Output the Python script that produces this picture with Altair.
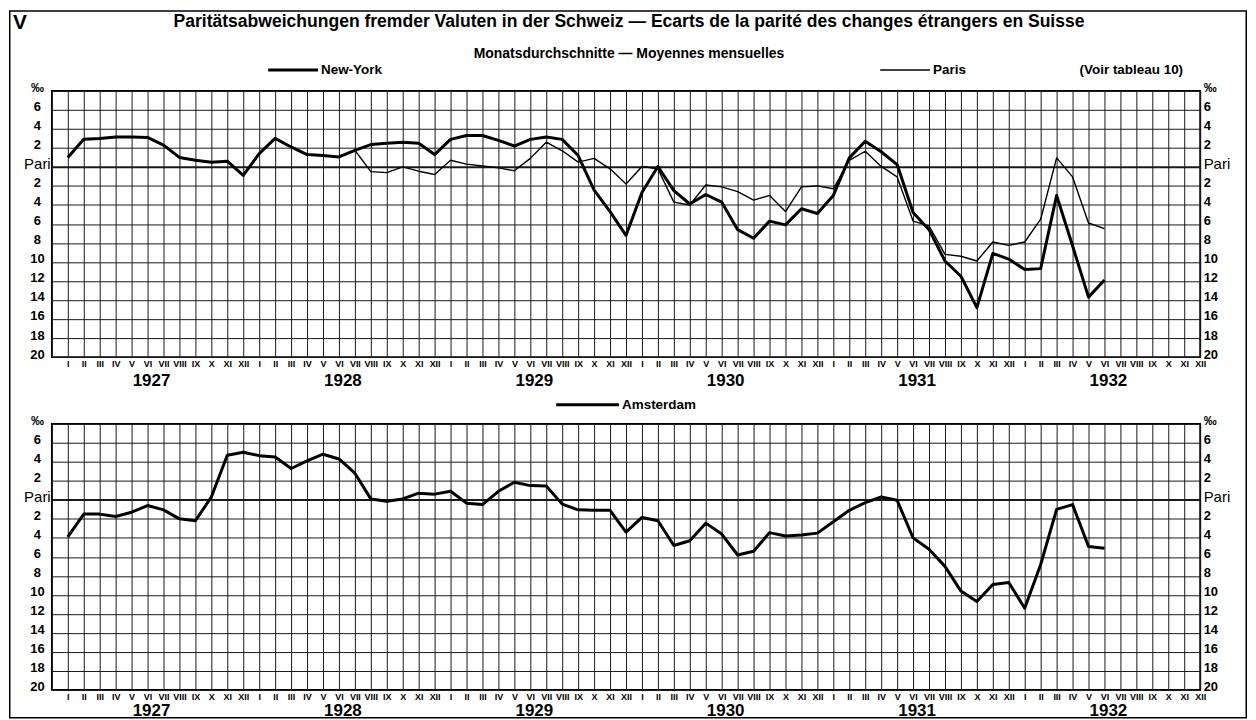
import altair as alt
import pandas as pd

FONT = "Liberation Sans"

MONTHS = ["I", "II", "III", "IV", "V", "VI", "VII", "VIII", "IX", "X", "XI", "XII"]
YEARS = ["1927", "1928", "1929", "1930", "1931", "1932"]
Y_TICKS = list(range(-20, 9, 2))

# Monthly averages, per mille deviation from parity (positive = above parity)
NEW_YORK = [
    1.0, 2.9, 3.0, 3.15, 3.15, 3.1, 2.3, 1.0, 0.7, 0.5, 0.6, -0.9,
    1.4, 3.0, 2.1, 1.3, 1.2, 1.05, 1.75, 2.35, 2.5, 2.6, 2.5, 1.3,
    2.9, 3.3, 3.3, 2.8, 2.2, 2.9, 3.15, 2.9, 1.2, -2.45, -4.7, -7.2,
    -2.7, 0.05, -2.5, -3.9, -2.9, -3.7, -6.6, -7.5, -5.7, -6.1, -4.4, -4.9,
    -3.0, 0.95, 2.7, 1.6, 0.25, -4.8, -6.6, -9.9, -11.5, -14.8, -9.1, -9.7,
    -10.8, -10.7, -3.0, -8.3, -13.7, -11.9,
]
PARIS_FIRST_MONTH = 19  # VII 1928
PARIS = [
    1.75, -0.5, -0.6, 0.0, -0.45, -0.8,
    0.7, 0.3, 0.1, -0.1, -0.4, 0.9, 2.6, 1.7, 0.5, 0.9, -0.2, -1.8,
    0.05, -0.2, -3.7, -4.0, -1.9, -2.1, -2.6, -3.5, -3.0, -4.7, -2.1, -2.0,
    -2.3, 0.7, 1.65, 0.05, -1.05, -5.7, -6.2, -9.2, -9.4, -9.9, -7.9, -8.25,
    -7.9, -5.5, 0.95, -1.05, -5.9, -6.5,
]
AMSTERDAM = [
    -3.9, -1.5, -1.5, -1.75, -1.3, -0.6, -1.05, -2.0, -2.2, 0.3, 4.7, 5.0,
    4.65, 4.5, 3.3, 4.1, 4.8, 4.3, 2.8, 0.1, -0.15, 0.1, 0.7, 0.6,
    0.9, -0.35, -0.5, 0.9, 1.85, 1.5, 1.45, -0.45, -1.05, -1.1, -1.1, -3.4,
    -1.85, -2.2, -4.8, -4.3, -2.45, -3.6, -5.8, -5.4, -3.45, -3.8, -3.7, -3.5,
    -2.3, -1.1, -0.3, 0.3, -0.05, -4.0, -5.2, -7.0, -9.6, -10.7, -8.9, -8.7,
    -11.4, -6.8, -1.0, -0.5, -4.9, -5.1,
]

PLATE = "V"
TITLE = "Paritätsabweichungen fremder Valuten in der Schweiz — Ecarts de la parité des changes étrangers en Suisse"
SUBTITLE = "Monatsdurchschnitte — Moyennes mensuelles"
NOTE = "(Voir tableau 10)"
NAMES = ["New-York", "Paris", "Amsterdam"]

W, H = 1152, 267


def series_df(values, first_month=1):
    return pd.DataFrame({"m": list(range(first_month, first_month + len(values))), "v": values})


ny_df = series_df(NEW_YORK)
pa_df = series_df(PARIS, PARIS_FIRST_MONTH)
am_df = series_df(AMSTERDAM)
year_df = pd.DataFrame({"m": [12 * k + 6.25 for k in range(len(YEARS))], "label": YEARS})
one = pd.DataFrame({"k": [0]})

xscale = alt.Scale(domain=[0, 72], nice=False, zero=False)
yscale = alt.Scale(domain=[-20, 8], nice=False, zero=False)

month_expr = "datum.value >= 1 ? " + str(MONTHS) + "[(datum.value - 1) % 12] : ''"
y_expr = "datum.value === 0 ? 'Pari' : (datum.value === 8 ? '‰' : '' + abs(datum.value))"

xaxis = alt.Axis(
    values=list(range(0, 73)), grid=True, gridColor="#1a1a1a", gridWidth=1,
    domain=False, ticks=False, labelExpr=month_expr, labelOverlap=False,
    labelFlush=False, labelPadding=3, labelFont=FONT, labelFontWeight="bold",
    labelFontSize=9, labelColor="black", title=None,
)
pari_size = {"condition": {"test": "datum.value === 0", "value": 15}, "value": 13}
pari_weight = {"condition": {"test": "datum.value === 0", "value": "normal"}, "value": "bold"}
yaxis_left = alt.Axis(
    values=Y_TICKS, grid=True, gridColor="#1a1a1a",
    gridWidth={"condition": {"test": "datum.value === 0", "value": 2}, "value": 1},
    domain=False, ticks=False, labelExpr=y_expr, labelOverlap=False, labelFlush=False,
    labelAlign="center", labelBaseline="middle", labelPadding=15, labelOffset=-3,
    labelFont=FONT, labelFontSize=pari_size, labelFontWeight=pari_weight,
    labelColor="black", title=None,
)
yaxis_right = alt.Axis(
    orient="right", values=Y_TICKS, grid=False, domain=False, ticks=False,
    labelExpr=y_expr, labelOverlap=False, labelFlush=False, labelAlign="left",
    labelBaseline="middle", labelPadding=3, labelOffset=-3, labelFont=FONT,
    labelFontSize=pari_size, labelFontWeight=pari_weight, labelColor="black", title=None,
)

X = alt.X("m:Q", scale=xscale, axis=xaxis, title=None)


def line(df, width, axis, opacity=1):
    return alt.Chart(df).mark_line(
        color="black", strokeWidth=width, strokeJoin="round", strokeOpacity=opacity
    ).encode(x=X, y=alt.Y("v:Q", scale=yscale, axis=axis, title=None))


def text(t, x, y, size, weight="bold", align="center"):
    return alt.Chart(one).mark_text(
        text=t, font=FONT, fontSize=size, fontWeight=weight, align=align,
        baseline="middle", color="black",
    ).encode(x=alt.value(x), y=alt.value(y))


def sample(x1, x2, y, width):
    return alt.Chart(one).mark_rule(color="black", strokeWidth=width).encode(
        x=alt.value(x1), x2=alt.value(x2), y=alt.value(y)
    )


def years(offset):
    return alt.Chart(year_df).mark_text(
        font=FONT, fontSize=17, fontWeight="bold", baseline="middle", color="black"
    ).encode(x=X, y=alt.value(H + offset), text="label:N")


frame = alt.Chart(one).mark_rect(fillOpacity=0, stroke="black", strokeWidth=1.5).encode(
    x=alt.value(-42.25), x2=alt.value(1198.25), y=alt.value(-80.25), y2=alt.value(629.0)
)

top = alt.layer(
    frame,
    line(ny_df, 3, yaxis_left),
    line(pa_df, 1.4, yaxis_right),
    years(24),
    text(PLATE, -32, -68, 21),
    text(TITLE, 579, -69, 17.6),
    text(SUBTITLE, 579, -37, 14),
    sample(217, 267, -21, 3),
    text(NAMES[0], 270, -21, 13.5, align="left"),
    sample(831, 881, -21, 1.5),
    text(NAMES[1], 884, -21, 13.5, align="left"),
    text(NOTE, 1031, -21, 13.5, align="left"),
).resolve_scale(y="shared").resolve_axis(y="independent").properties(width=W, height=H)

bottom = alt.layer(
    line(am_df, 3, yaxis_left),
    line(am_df, 1, yaxis_right, opacity=0),
    years(21),
    sample(506, 569, -19, 3),
    text(NAMES[2], 572, -19, 13.5, align="left"),
).resolve_scale(y="shared").resolve_axis(y="independent").properties(width=W, height=H)

chart = alt.vconcat(top, bottom, spacing=67, bounds="flush").properties(
    padding=0
).configure_view(stroke="black", strokeWidth=1.8).configure_text(font=FONT)

chart.save("out.html", embed_options={"renderer": "svg", "actions": False})
